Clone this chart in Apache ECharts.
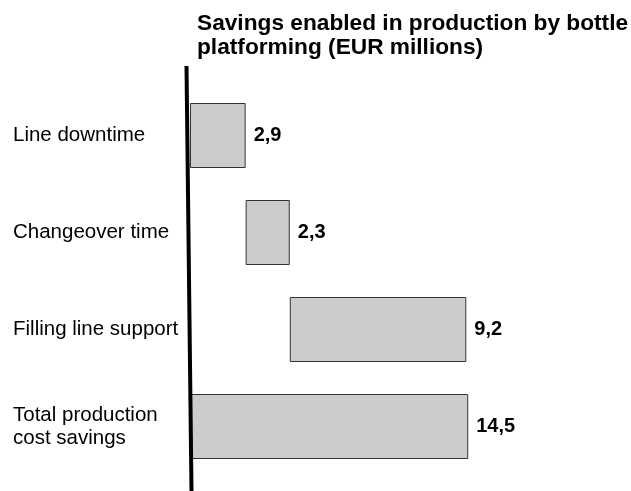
<!DOCTYPE html>
<html>
<head>
<meta charset="utf-8">
<script src="https://cdn.jsdelivr.net/npm/echarts@6/dist/echarts.min.js"></script>
<style>
  html, body { margin: 0; padding: 0; background: #ffffff; }
  #chart { width: 631px; height: 491px; }
</style>
</head>
<body>
<div id="chart"></div>
<script>
// Savings steps (EUR millions), top to bottom
const categories = ['Line downtime', 'Changeover time', 'Filling line support', 'Total production\ncost savings'];
const savings = [2.9, 2.3, 9.2, 14.5];
// Invisible offsets that make the steps float (waterfall)
const offsets = [0, 2.9, 5.2, 0];

const chart = echarts.init(document.getElementById('chart'));

chart.setOption({
  backgroundColor: '#ffffff',
  animation: false,
  title: {
    text: 'Savings enabled in production by bottle\nplatforming (EUR millions)',
    left: 197,
    top: 12,
    padding: 0,
    textStyle: {
      fontFamily: 'Liberation Sans, Arial, sans-serif',
      fontWeight: 'bold',
      fontSize: 22.7,
      lineHeight: 23.5,
      color: '#000000'
    }
  },
  grid: { left: 190, top: 87, width: 307, height: 388 },
  xAxis: {
    type: 'value',
    min: 0,
    max: 16,
    show: false
  },
  yAxis: {
    type: 'category',
    data: categories,
    inverse: true,
    axisLine: { show: false },
    axisTick: { show: false },
    splitLine: { show: false },
    axisLabel: {
      align: 'left',
      margin: 177,
      fontFamily: 'Liberation Sans, Arial, sans-serif',
      fontSize: 20.5,
      lineHeight: 23,
      color: '#000000'
    }
  },
  series: [
    {
      type: 'bar',
      stack: 'steps',
      data: offsets,
      barWidth: 65,
      itemStyle: { color: 'rgba(0,0,0,0)' },
      silent: true
    },
    {
      type: 'bar',
      stack: 'steps',
      data: savings,
      barWidth: 65,
      itemStyle: { color: '#cccccc', borderColor: '#333333', borderWidth: 1 },
      label: {
        show: true,
        position: 'right',
        distance: 8,
        formatter: p => p.value.toFixed(1).replace('.', ','),
        fontFamily: 'Liberation Sans, Arial, sans-serif',
        fontWeight: 'bold',
        fontSize: 20,
        color: '#000000'
      }
    }
  ],
  graphic: [
    {
      // baseline rule on the left of the bars
      type: 'line',
      shape: { x1: 186.5, y1: 66, x2: 191.5, y2: 491 },
      style: { stroke: '#000000', lineWidth: 4 },
      z: 10
    }
  ]
});
</script>
</body>
</html>
